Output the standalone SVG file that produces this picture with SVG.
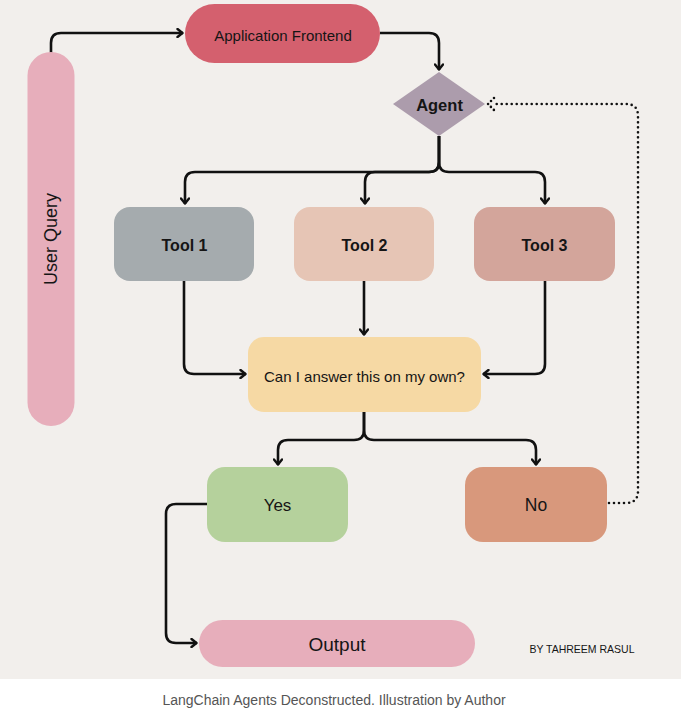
<svg xmlns="http://www.w3.org/2000/svg" width="681" height="716" viewBox="0 0 681 716">
<defs>
<marker id="arr" viewBox="0 0 10 10" refX="8.5" refY="5" markerWidth="10" markerHeight="10" markerUnits="userSpaceOnUse" orient="auto">
<path d="M3,1 L8,5 L3,9" fill="none" stroke="#111" stroke-width="2.4" stroke-linecap="round" stroke-linejoin="round"/>
</marker>
<style>
.t{font-family:"Liberation Sans",Arial,sans-serif;fill:#151515;text-anchor:middle;dominant-baseline:central}
.b{font-weight:bold}
.c{fill:none;stroke:#111;stroke-width:2.6;stroke-linejoin:round}
.d{fill:none;stroke:#111;stroke-width:2.6;stroke-dasharray:0 5;stroke-linecap:round}
</style>
</defs>
<rect x="0" y="0" width="681" height="716" fill="#ffffff"/>
<rect x="0" y="0" width="681" height="679" fill="#F2EFEC"/>

<g id="connectors">
<path class="c" d="M51,54 V43 Q51,33 61,33 H183" marker-end="url(#arr)"/>
<path class="c" d="M380,33 H429 Q439,33 439,43 V70" marker-end="url(#arr)"/>
<path class="c" d="M439,136 V162 Q439,172 429,172 H195 Q185,172 185,182 V204" marker-end="url(#arr)"/>
<path class="c" d="M439,136 V162 Q439,172 429,172 H375 Q365,172 365,182 V204" marker-end="url(#arr)"/>
<path class="c" d="M439,136 V162 Q439,172 449,172 H535 Q545,172 545,182 V204" marker-end="url(#arr)"/>
<path class="c" d="M184,281 V364 Q184,374 194,374 H246" marker-end="url(#arr)"/>
<path class="c" d="M364,281 V335" marker-end="url(#arr)"/>
<path class="c" d="M545,281 V364 Q545,374 535,374 H483" marker-end="url(#arr)"/>
<path class="c" d="M364,412 V430 Q364,440 354,440 H288 Q278,440 278,450 V465" marker-end="url(#arr)"/>
<path class="c" d="M364,412 V430 Q364,440 374,440 H526 Q536,440 536,450 V465" marker-end="url(#arr)"/>
<path class="c" d="M207,504 H176 Q166,504 166,514 V633 Q166,643 176,643 H197" marker-end="url(#arr)"/>
<path class="d" d="M609,503 H626 Q638,503 638,491 V116 Q638,104 626,104 H493"/>
<path d="M494,98 L488,104 L494,110" fill="none" stroke="#111" stroke-width="2.6" stroke-dasharray="0 4.2" stroke-linecap="round"/>
</g>

<g id="user-query">
<rect x="27.5" y="52" width="47" height="374" rx="23.5" fill="#E7AEBB"/>
<text class="t" transform="translate(51,239) rotate(-90)" font-size="18">User Query</text>
</g>
<g id="app-frontend">
<rect x="185" y="4" width="195" height="59" rx="29.5" fill="#D4606E"/>
<text class="t" x="283" y="35" font-size="15">Application Frontend</text>
</g>
<g id="agent">
<polygon points="439,72 485,104 439,136 393,104" fill="#AC9CAC"/>
<text class="t b" x="439.5" y="105" font-size="16.5">Agent</text>
</g>
<g id="tool1">
<rect x="114" y="207" width="140" height="74" rx="16" fill="#A5ABAE"/>
<text class="t b" x="184.5" y="245" font-size="16">Tool 1</text>
</g>
<g id="tool2">
<rect x="294" y="207" width="140" height="74" rx="16" fill="#E6C5B5"/>
<text class="t b" x="364.5" y="245" font-size="16">Tool 2</text>
</g>
<g id="tool3">
<rect x="474" y="207" width="141" height="74" rx="16" fill="#D3A59B"/>
<text class="t b" x="544.5" y="245" font-size="16">Tool 3</text>
</g>
<g id="can-answer">
<rect x="248" y="337" width="233" height="75" rx="16" fill="#F6D9A4"/>
<text class="t" x="364.5" y="376" font-size="15">Can I answer this on my own?</text>
</g>
<g id="yes">
<rect x="207" y="467" width="141" height="75" rx="18" fill="#B5D19C"/>
<text class="t" x="277.5" y="505" font-size="17">Yes</text>
</g>
<g id="no">
<rect x="465" y="467" width="142" height="75" rx="18" fill="#D8987C"/>
<text class="t" x="536" y="505" font-size="17.5">No</text>
</g>
<g id="output">
<rect x="199" y="620" width="276" height="47" rx="23.5" fill="#E7AEBB"/>
<text class="t" x="337" y="644" font-size="19">Output</text>
</g>
<text class="t" x="582" y="649" font-size="10.5">BY TAHREEM RASUL</text>
<text class="t" x="334" y="700" font-size="14" style="fill:#555">LangChain Agents Deconstructed. Illustration by Author</text>
</svg>
